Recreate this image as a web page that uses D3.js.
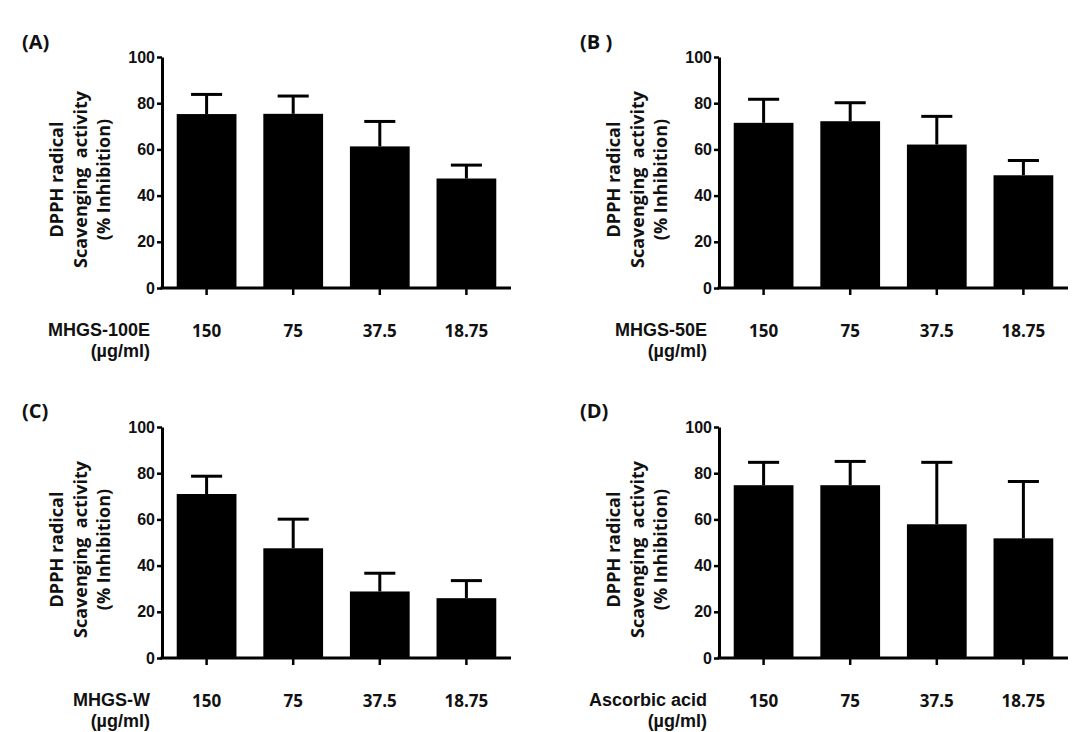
<!DOCTYPE html>
<html>
<head>
<meta charset="utf-8">
<script src="https://cdn.jsdelivr.net/npm/d3@7"></script>
<style>
  html, body { margin: 0; padding: 0; background: #ffffff; }
  svg { display: block; }
</style>
</head>
<body>
<svg id="chart" width="1083" height="732"></svg>
<script>
// ---------------- data ----------------
const categories = ["150", "75", "37.5", "18.75"];
const yTicks = [0, 20, 40, 60, 80, 100];

const meanA = [75.3, 75.4, 61.3, 47.4];
const sdA   = [8.5, 7.7, 10.8, 5.8];

const meanB = [71.5, 72.2, 62.1, 48.8];
const sdB   = [10.2, 8.0, 12.2, 6.4];

const meanC = [71.0, 47.5, 28.8, 25.9];
const sdC   = [7.7, 12.6, 7.9, 7.6];

const meanD = [74.8, 74.8, 57.9, 51.8];
const sdD   = [9.9, 10.3, 26.8, 24.6];

const panelLetters = ["(A)", "(B )", "(C)", "(D)"];
const sampleNames = ["MHGS-100E", "MHGS-50E", "MHGS-W", "Ascorbic acid"];
const unitLabel = "(\u00b5g/ml)";
const yTitleLines = ["DPPH radical", "Scavenging  activity", "(% Inhibition)"];

// ---------------- layout ----------------
const panels = [
  { letter: panelLetters[0], name: sampleNames[0], mean: meanA, sd: sdA, x0: 162, x1: 511, yTop: 57,  yBot: 288, lx: 22,  ly: 49 },
  { letter: panelLetters[1], name: sampleNames[1], mean: meanB, sd: sdB, x0: 719, x1: 1068, yTop: 57, yBot: 288, lx: 580, ly: 49 },
  { letter: panelLetters[2], name: sampleNames[2], mean: meanC, sd: sdC, x0: 162, x1: 511, yTop: 427, yBot: 658, lx: 22,  ly: 418 },
  { letter: panelLetters[3], name: sampleNames[3], mean: meanD, sd: sdD, x0: 719, x1: 1068, yTop: 427, yBot: 658, lx: 580, ly: 418 }
];

const svg = d3.select("#chart");
const labelFont = "'Open Sans', 'Noto Sans', sans-serif";
const tickFont = "'Liberation Sans', Arial, sans-serif";

panels.forEach(p => {
  const g = svg.append("g");

  const x = d3.scaleBand()
    .domain(categories)
    .range([p.x0, p.x1])
    .paddingInner(0.31)
    .paddingOuter(0.17);

  const y = d3.scaleLinear()
    .domain([0, 100])
    .range([p.yBot, p.yTop]);

  const data = categories.map((c, i) => ({ c, m: p.mean[i], s: p.sd[i] }));

  // bars
  g.selectAll("rect.bar").data(data).enter().append("rect")
    .attr("class", "bar")
    .attr("x", d => x(d.c))
    .attr("width", x.bandwidth())
    .attr("y", d => y(d.m))
    .attr("height", d => y(0) - y(d.m))
    .attr("fill", "#000");

  // error bars (upper only)
  const capHalf = x.bandwidth() * 0.26;
  g.selectAll("line.err").data(data).enter().append("line")
    .attr("x1", d => x(d.c) + x.bandwidth() / 2)
    .attr("x2", d => x(d.c) + x.bandwidth() / 2)
    .attr("y1", d => y(d.m))
    .attr("y2", d => y(d.m + d.s))
    .attr("stroke", "#000").attr("stroke-width", 3);
  g.selectAll("line.cap").data(data).enter().append("line")
    .attr("x1", d => x(d.c) + x.bandwidth() / 2 - capHalf)
    .attr("x2", d => x(d.c) + x.bandwidth() / 2 + capHalf)
    .attr("y1", d => y(d.m + d.s))
    .attr("y2", d => y(d.m + d.s))
    .attr("stroke", "#000").attr("stroke-width", 3);

  // y axis
  const ya = g.append("g")
    .attr("transform", `translate(${p.x0},0)`)
    .call(d3.axisLeft(y).tickValues(yTicks).tickSize(5).tickSizeOuter(0).tickPadding(2));
  ya.select(".domain").attr("stroke-width", 3);
  ya.selectAll(".tick line").attr("stroke-width", 2.5);
  ya.selectAll(".tick text")
    .attr("font-family", tickFont).attr("font-weight", "bold")
    .attr("font-size", 16).attr("fill", "#111");

  // x axis
  const xa = g.append("g")
    .attr("transform", `translate(0,${p.yBot})`)
    .call(d3.axisBottom(x).tickSize(7).tickSizeOuter(0).tickPadding(30));
  xa.select(".domain").attr("stroke-width", 3)
    .attr("d", `M${p.x0 - 1.5},0H${p.x1}`);
  xa.selectAll(".tick line").attr("stroke-width", 2.5);
  xa.selectAll(".tick text")
    .attr("font-family", labelFont).attr("font-weight", "bold")
    .attr("font-size", 17).attr("fill", "#111");

  // group label under axis
  g.append("text")
    .attr("x", p.x0 - 12).attr("y", p.yBot + 48)
    .attr("text-anchor", "end")
    .attr("font-family", tickFont).attr("font-weight", "bold")
    .attr("font-size", 18).attr("fill", "#111")
    .text(p.name);
  g.append("text")
    .attr("x", p.x0 - 12).attr("y", p.yBot + 69)
    .attr("text-anchor", "end")
    .attr("font-family", tickFont).attr("font-weight", "bold")
    .attr("font-size", 18).attr("fill", "#111")
    .text(unitLabel);

  // y title (three rotated lines)
  const cy = (p.yTop + p.yBot) / 2 + 7;
  const offsets = [-99, -75, -52];
  yTitleLines.forEach((t, i) => {
    g.append("text")
      .attr("transform", `translate(${p.x0 + offsets[i]},${cy}) rotate(-90)`)
      .attr("text-anchor", "middle")
      .attr("font-family", labelFont).attr("font-weight", "bold")
      .attr("font-size", 18).attr("fill", "#111")
      .style("white-space", "pre")
      .text(t);
  });

  // panel letter
  g.append("text")
    .attr("x", p.lx).attr("y", p.ly)
    .attr("font-family", labelFont).attr("font-weight", "bold")
    .attr("font-size", 20).attr("fill", "#111")
    .style("white-space", "pre")
    .text(p.letter);
});
</script>
</body>
</html>
